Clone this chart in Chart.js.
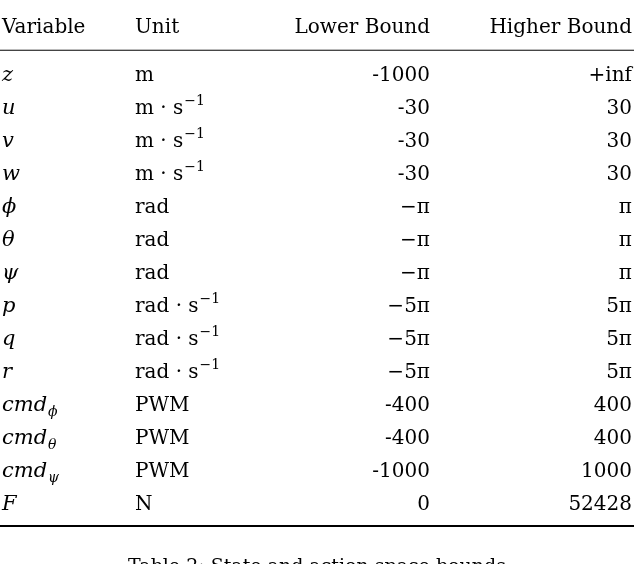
<!DOCTYPE html>
<html><head><meta charset="utf-8">
<script src="https://cdn.jsdelivr.net/npm/chart.js@4"></script>
<style>html,body{margin:0;background:#fff}#wrap{width:634px;height:564px}</style>
</head><body><div id="wrap"><canvas id="c"></canvas></div>
<script>
// table content: variable (italic base, optional subscript), unit, bounds
const headers = ['Variable', 'Unit', 'Lower Bound', 'Higher Bound'];
const varNames = ['z', 'u', 'v', 'w', '\u03d5', '\u03b8', '\u03c8', 'p', 'q', 'r', 'cmd', 'cmd', 'cmd', 'F'];
const varSubs = ['', '', '', '', '', '', '', '', '', '', '\u03d5', '\u03b8', '\u03c8', ''];
const unitBase = ['m', 'm \u00b7 s', 'm \u00b7 s', 'm \u00b7 s', 'rad', 'rad', 'rad', 'rad \u00b7 s', 'rad \u00b7 s', 'rad \u00b7 s', 'PWM', 'PWM', 'PWM', 'N'];
const unitSup = ['', '\u22121', '\u22121', '\u22121', '', '', '', '\u22121', '\u22121', '\u22121', '', '', '', ''];
const lowerBounds = ['-1000', '-30', '-30', '-30', '\u2212\u03c0', '\u2212\u03c0', '\u2212\u03c0', '\u22125\u03c0', '\u22125\u03c0', '\u22125\u03c0', '-400', '-400', '-1000', '0'];
const higherBounds = ['+inf', '30', '30', '30', '\u03c0', '\u03c0', '\u03c0', '5\u03c0', '5\u03c0', '5\u03c0', '400', '400', '1000', '52428'];
const caption = 'Table 2: State and action space bounds';

const FONT = "'DejaVu Serif', 'Liberation Serif', serif";
const rows = varNames.map((v, i) => ({ x: 0, y: i }));

const tablePlugin = {
  id: 'table',
  afterDraw(chart) {
    const ctx = chart.ctx, xs = chart.scales.x, ys = chart.scales.y;
    const colX = [2, 135, 430, 632].map(v => xs.getPixelForValue(v));
    ctx.save();
    ctx.fillStyle = '#000';
    ctx.strokeStyle = '#000';
    ctx.textBaseline = 'alphabetic';
    const norm = '20px ' + FONT, ital = 'italic 21px ' + FONT, small = '14px ' + FONT, smallI = 'italic 14px ' + FONT;
    function txt(s, x, y, font, align) {
      ctx.font = font; ctx.textAlign = align || 'left'; ctx.fillText(s, x, y);
      return ctx.measureText(s).width;
    }
    const rule = (y, w) => { ctx.lineWidth = w; ctx.beginPath(); ctx.moveTo(0, y); ctx.lineTo(634, y); ctx.stroke(); };
    rule(ys.getPixelForValue(-0.72), 1);
    rule(ys.getPixelForValue(13.7), 2);
    const hy = ys.getPixelForValue(-1.45) + 7;
    txt(headers[0], colX[0], hy, norm);
    txt(headers[1], colX[1], hy, norm);
    txt(headers[2], colX[2], hy, norm, 'right');
    txt(headers[3], colX[3], hy, norm, 'right');
    rows.forEach((r, i) => {
      const y = ys.getPixelForValue(r.y) + 7;
      let w = txt(varNames[i], colX[0], y, ital);
      if (varSubs[i]) txt(varSubs[i], colX[0] + w + 1, y + 5, smallI);
      w = txt(unitBase[i], colX[1], y, norm);
      if (unitSup[i]) txt(unitSup[i], colX[1] + w + 1, y - 9, small);
      txt(lowerBounds[i], colX[2], y, norm, 'right');
      txt(higherBounds[i], colX[3], y, norm, 'right');
    });
    ctx.font = '19px ' + FONT; ctx.textAlign = 'center';
    ctx.fillText(caption, 317, ys.getPixelForValue(14.8) + 10);
    ctx.restore();
  }
};

new Chart(document.getElementById('c'), {
  type: 'scatter',
  data: { datasets: [{ data: rows, pointRadius: 0 }] },
  options: {
    responsive: true, maintainAspectRatio: false, animation: false,
    layout: { padding: 0 },
    plugins: { legend: { display: false }, tooltip: { enabled: false } },
    scales: {
      x: { type: 'linear', min: 0, max: 634, display: false },
      y: { type: 'linear', min: -74 / 33, max: 490 / 33, reverse: true, display: false }
    }
  },
  plugins: [tablePlugin]
});
</script></body></html>
